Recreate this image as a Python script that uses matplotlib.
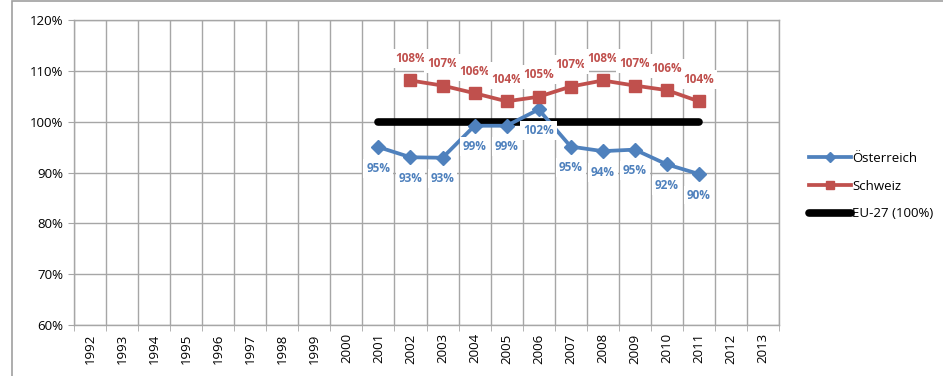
import numpy as np
import matplotlib.pyplot as plt
from matplotlib.patches import Rectangle

plt.rcParams['font.family'] = ['Open Sans', 'DejaVu Sans']

years = [str(y) for y in range(1992, 2014)]
oe_years = list(range(2001, 2012))
oe_vals = [95.0, 93.0, 92.9, 99.2, 99.2, 102.4, 95.1, 94.2, 94.5, 91.6, 89.7]
oe_labels = ['95%', '93%', '93%', '99%', '99%', '102%', '95%', '94%', '95%', '92%', '90%']
ch_years = list(range(2002, 2012))
ch_vals = [108.1, 107.1, 105.6, 104.0, 104.9, 106.9, 108.1, 107.1, 106.2, 104.0]
ch_labels = ['108%', '107%', '106%', '104%', '105%', '107%', '108%', '107%', '106%', '104%']
eu_years = list(range(2001, 2012))
eu_vals = [100] * len(eu_years)

blue = '#4F81BD'
red = '#C0504D'
grid = '#A6A6A6'

fig = plt.figure(figsize=(9.43, 3.76), dpi=100)
fig.patches.append(Rectangle((12 / 943, -0.1), 1.1, 1.1 - 1 / 376, transform=fig.transFigure,
                             fill=False, edgecolor='#A0A0A0', linewidth=1.2))
ax = fig.add_axes([74 / 943, 51 / 376, 705 / 943, 305 / 376])

pos = {int(y): i for i, y in enumerate(years)}
xo = [pos[y] for y in oe_years]
xc = [pos[y] for y in ch_years]
xe = [pos[y] for y in eu_years]

ax.plot(xe, eu_vals, color='black', lw=5.5, solid_capstyle='round', zorder=3,
        label='EU-27 (100%)')
ax.plot(xo, oe_vals, color=blue, lw=2.7, marker='D', ms=7, zorder=4, label='Österreich')
ax.plot(xc, ch_vals, color=red, lw=2.7, marker='s', ms=8, zorder=4, label='Schweiz')

for x, v, t in zip(xo, oe_vals, oe_labels):
    ax.annotate(t, (x, v), xytext=(0, -21), textcoords='offset pixels', ha='center',
                va='center', color=blue, fontsize=8.5, fontweight='bold', zorder=6,
                bbox=dict(boxstyle='square,pad=0.25', fc='white', ec='none'))
for x, v, t in zip(xc, ch_vals, ch_labels):
    ax.annotate(t, (x, v), xytext=(0, 22), textcoords='offset pixels', ha='center',
                va='center', color=red, fontsize=8.5, fontweight='bold', zorder=6,
                bbox=dict(boxstyle='square,pad=0.25', fc='white', ec='none'))

ax.set_xlim(-0.5, len(years) - 0.5)
ax.set_ylim(60, 120)
ax.set_yticks(np.arange(60, 121, 10))
ax.set_yticklabels([f'{v}%' for v in range(60, 121, 10)], fontsize=9.5)
ax.set_xticks(range(len(years)))
ax.set_xticklabels(years, rotation=90, fontsize=9.5)
ax.set_xticks(np.arange(-0.5, len(years), 1), minor=True)
ax.tick_params(axis='x', which='major', length=0, pad=6)
ax.tick_params(axis='x', which='minor', length=4, color=grid)
ax.tick_params(axis='y', length=4, color=grid)
ax.grid(True, which='minor', axis='x', color=grid, lw=1)
ax.grid(True, which='major', axis='y', color=grid, lw=1)
ax.set_axisbelow(True)
for s in ax.spines.values():
    s.set_color(grid)
    s.set_linewidth(1)

h, l = ax.get_legend_handles_labels()
order = [1, 2, 0]
fig.legend([h[i] for i in order], [l[i] for i in order], loc='center left',
           bbox_to_anchor=(797 / 943, 0.505), frameon=False, fontsize=9.5,
           handlelength=3.2, handletextpad=0.1, labelspacing=1.1, markerscale=0.8)

fig.savefig('out.png', dpi=100)
